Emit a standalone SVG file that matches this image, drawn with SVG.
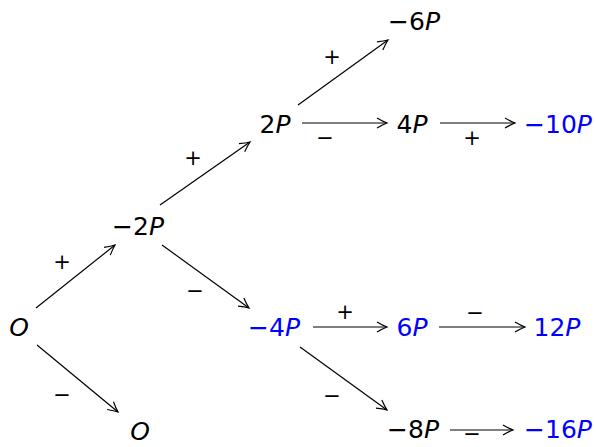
<svg xmlns="http://www.w3.org/2000/svg" width="596" height="447" viewBox="0 0 596 447">
<defs>
<marker id="ar" markerUnits="userSpaceOnUse" markerWidth="14" markerHeight="14" viewBox="-12 -7 14 14" refX="0" refY="0" orient="auto">
<path d="M-10,-5 Q-4,-1.5 0,0 Q-4,1.5 -10,5" fill="none" stroke="#000" stroke-width="1.2"/>
</marker>
</defs>
<style>
.n{font-family:"DejaVu Sans",sans-serif;font-size:25px;text-anchor:middle;fill:#000}
.b{fill:#0000ff}
.i{font-style:italic}
.l{font-family:"DejaVu Sans",sans-serif;font-size:21px;text-anchor:middle;fill:#000}
.e{fill:none;stroke:#000;stroke-width:1.2;marker-end:url(#ar)}
</style>
<g id="connectors">
<line class="e" x1="36" y1="308" x2="115" y2="245"/>
<line class="e" x1="37" y1="345" x2="118" y2="412"/>
<line class="e" x1="162" y1="245" x2="249" y2="308"/>
<line class="e" x1="160" y1="205" x2="250" y2="142"/>
<line class="e" x1="298" y1="105" x2="388" y2="40"/>
<line class="e" x1="302" y1="123" x2="387" y2="123"/>
<line class="e" x1="440" y1="123" x2="515" y2="123"/>
<line class="e" x1="313" y1="327" x2="387" y2="327"/>
<line class="e" x1="439" y1="327" x2="525" y2="327"/>
<line class="e" x1="300" y1="347" x2="387" y2="410"/>
<line class="e" x1="450" y1="430" x2="513" y2="430"/>
<text class="l" x="62" y="269">+</text>
<text class="l" x="62" y="402">−</text>
<text class="l" x="195" y="298">−</text>
<text class="l" x="193" y="165">+</text>
<text class="l" x="332" y="64">+</text>
<text class="l" x="325" y="145">−</text>
<text class="l" x="472" y="145">+</text>
<text class="l" x="345" y="319">+</text>
<text class="l" x="475" y="320">−</text>
<text class="l" x="332" y="403">−</text>
<text class="l" x="472" y="441">−</text>
</g>
<g id="n0"><text class="n" x="19" y="336"><tspan class="i">O</tspan></text></g>
<g id="n1"><text class="n" x="140" y="440"><tspan class="i">O</tspan></text></g>
<g id="n2"><text class="n" x="138" y="235">−2<tspan class="i">P</tspan></text></g>
<g id="n3"><text class="n b" x="274" y="336">−4<tspan class="i">P</tspan></text></g>
<g id="n4"><text class="n" x="275" y="133">2<tspan class="i">P</tspan></text></g>
<g id="n5"><text class="n" x="414" y="30">−6<tspan class="i">P</tspan></text></g>
<g id="n6"><text class="n" x="412" y="133">4<tspan class="i">P</tspan></text></g>
<g id="n7"><text class="n b" x="558" y="133">−10<tspan class="i">P</tspan></text></g>
<g id="n8"><text class="n b" x="412" y="336">6<tspan class="i">P</tspan></text></g>
<g id="n9"><text class="n b" x="557" y="336">12<tspan class="i">P</tspan></text></g>
<g id="n10"><text class="n" x="413" y="438">−8<tspan class="i">P</tspan></text></g>
<g id="n11"><text class="n b" x="558" y="438">−16<tspan class="i">P</tspan></text></g>
</svg>
